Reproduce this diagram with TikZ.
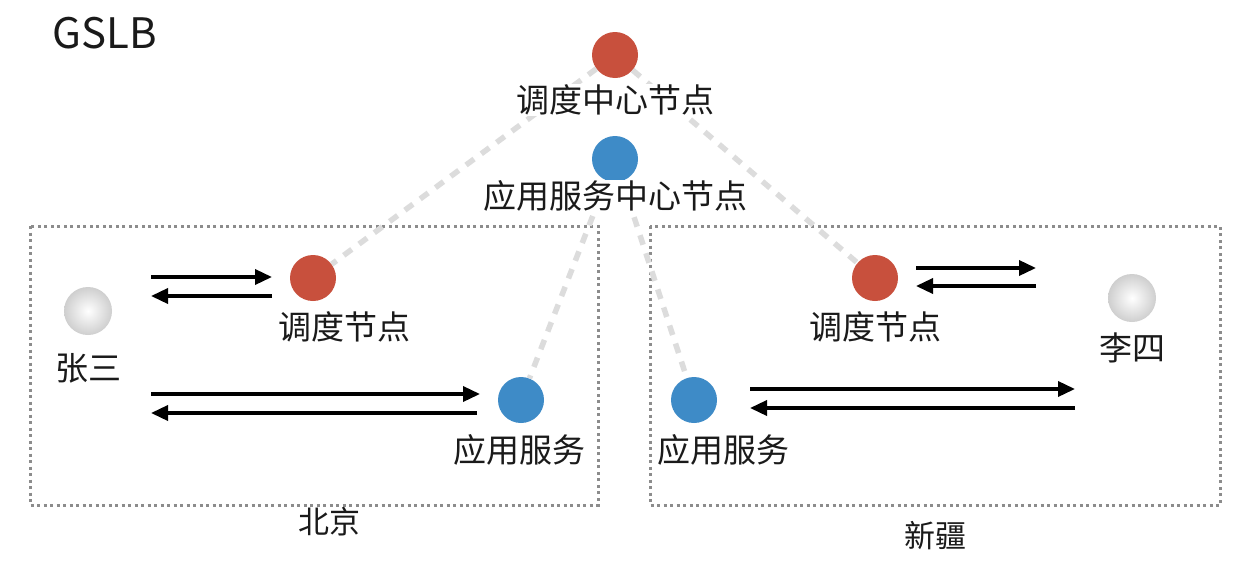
\documentclass[tikz,border=0pt]{standalone}
\usepackage{fontspec}
\setmainfont{Noto Sans CJK SC}
\usetikzlibrary{arrows.meta,shadings}
\definecolor{redn}{HTML}{C8503D}
\definecolor{bluen}{HTML}{3E8BC7}
\definecolor{txt}{HTML}{1A1A1A}
\definecolor{connc}{HTML}{DCDCDC}
\definecolor{boxc}{HTML}{8C8C8C}
\tikzset{
  rednode/.style={circle,fill=redn,minimum size=46pt,inner sep=0pt},
  bluenode/.style={circle,fill=bluen,minimum size=46pt,inner sep=0pt},
  usernode/.style={circle,shade,shading=radial,inner color=white,outer color=gray!38,minimum size=48pt,inner sep=0pt},
  lbl/.style={font=\fontsize{33pt}{36pt}\selectfont,text=txt,fill=white,inner sep=1pt},
  conn/.style={draw=connc,line width=5.5pt,dash pattern=on 10pt off 9pt},
  regionbox/.style={draw=boxc,line width=3pt,dash pattern=on 3pt off 3.5pt},
  arr/.style={draw=black,line width=3.5pt,-{Triangle[length=17pt,width=15pt]}}
}
\begin{document}
\begin{tikzpicture}[x=1pt,y=-1pt]
\useasboundingbox[fill=white] (0,0) rectangle (1255,573);
% region boxes
\draw[regionbox] (30,226) rectangle (598,505);
\draw[regionbox] (650,226) rectangle (1220,505);
% circles
\node[rednode] (cr) at (615,55) {};
\node[bluenode] (cb) at (615,159) {};
\node[rednode] (lr) at (313,278) {};
\node[bluenode] (lb) at (521,400) {};
\node[rednode] (rr) at (875,278) {};
\node[bluenode] (rb) at (694,400) {};
\node[usernode] (zs) at (88,311) {};
\node[usernode] (ls) at (1132,298) {};
% dashed connectors
\draw[conn] (cr) -- (lr);
\draw[conn] (cr) -- (rr);
\draw[conn] (cb) -- (lb);
\draw[conn] (cb) -- (rb);
% labels
\node[font=\fontsize{42pt}{46pt}\selectfont,text=txt] (gslb) at (105,33) {GSLB};
\node[lbl] (tcr) at (615,100) {调度中心节点};
\node[lbl] (tcb) at (615,196) {应用服务中心节点};
\node[lbl] (tlr) at (344,327) {调度节点};
\node[lbl] (tlb) at (519,450) {应用服务};
\node[lbl] (trr) at (875,327) {调度节点};
\node[lbl] (trb) at (723,450) {应用服务};
\node[lbl] (tzs) at (88,368) {张三};
\node[lbl] (tls) at (1132,348) {李四};
\node[lbl,font=\fontsize{31pt}{33pt}\selectfont] (bj) at (329,522) {北京};
\node[lbl,font=\fontsize{31pt}{33pt}\selectfont] (xj) at (935,536) {新疆};
% arrow end points
\coordinate (a1) at (151,277);
\coordinate (a2) at (272,277);
\coordinate (a3) at (272,296);
\coordinate (a4) at (151,296);
\coordinate (b1) at (151,394);
\coordinate (b2) at (480,394);
\coordinate (b3) at (477,413);
\coordinate (b4) at (151,413);
\coordinate (c1) at (916,268);
\coordinate (c2) at (1036,268);
\coordinate (c3) at (1036,286);
\coordinate (c4) at (916,286);
\coordinate (d1) at (750,389);
\coordinate (d2) at (1075,389);
\coordinate (d3) at (1075,408);
\coordinate (d4) at (750,408);
\draw[arr] (a1) -- (a2);
\draw[arr] (a3) -- (a4);
\draw[arr] (b1) -- (b2);
\draw[arr] (b3) -- (b4);
\draw[arr] (c1) -- (c2);
\draw[arr] (c3) -- (c4);
\draw[arr] (d1) -- (d2);
\draw[arr] (d3) -- (d4);
\end{tikzpicture}
\end{document}
